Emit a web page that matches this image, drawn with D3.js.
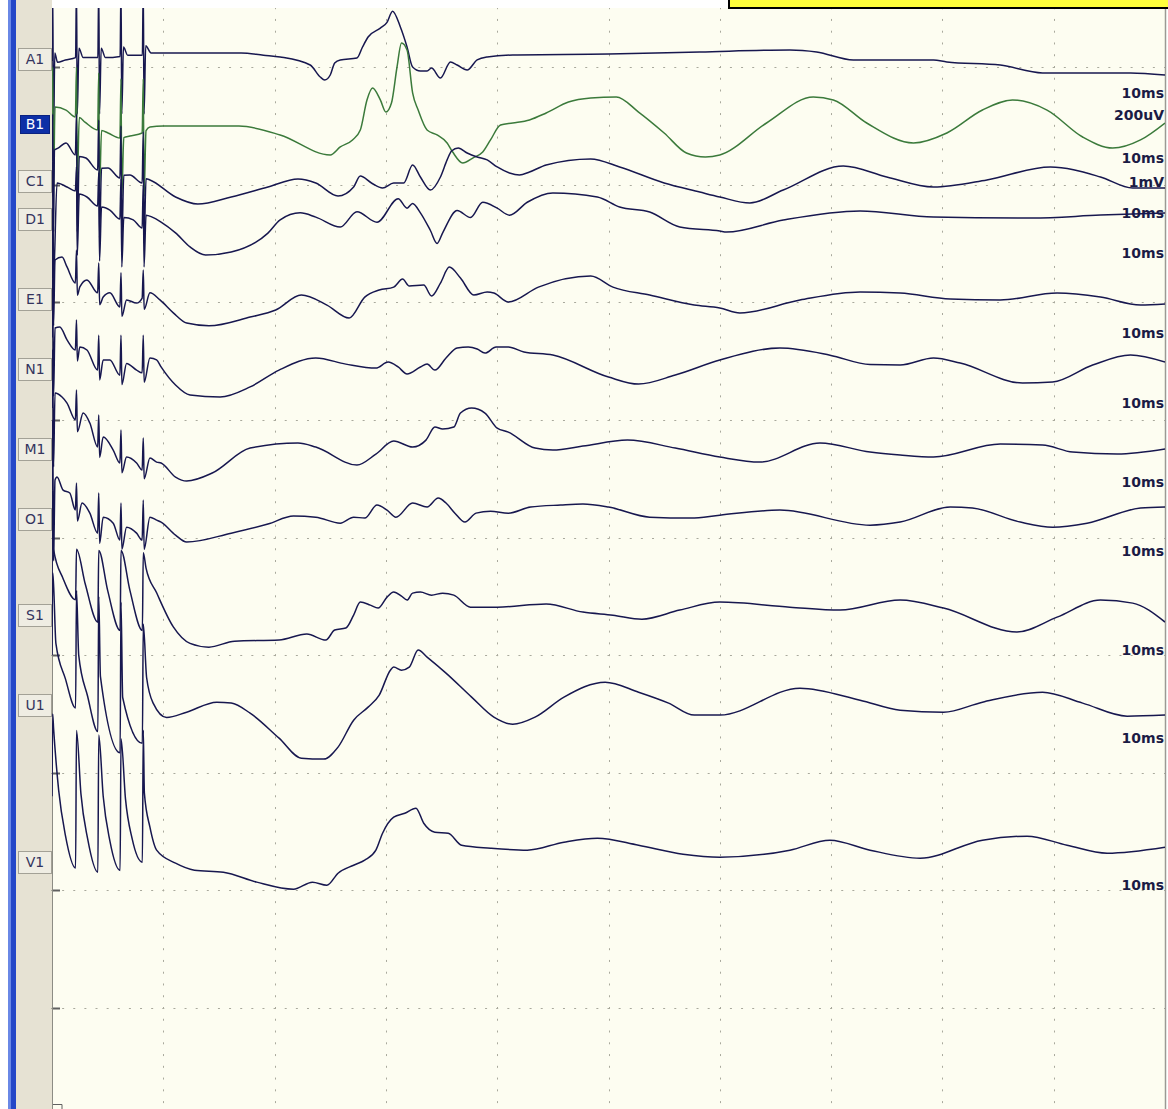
<!DOCTYPE html>
<html>
<head>
<meta charset="utf-8">
<script src="https://cdn.jsdelivr.net/npm/d3@7"></script>
<style>
  html, body { margin: 0; padding: 0; background: #ffffff; }
  svg { display: block; }
</style>
</head>
<body>
<svg id="screen" width="1168" height="1109"></svg>
<script>
// ---- recorded channels (time in ms, level in tenths of a screen division) ----
const channelNames = ["A1", "B1", "C1", "D1", "E1", "N1", "M1", "O1", "S1", "U1", "V1"];
const selectedChannel = "B1";

const traceA1 = [[0,-0.5],[0.06,-7],[0.14,6],[0.25,-1.2],[0.5,-0.4],[1.2,-0.6],[2.12,-0.8],[2.2,-7],[2.27,4],[2.42,-1.6],[2.8,-0.8],[4.12,-0.8],[4.2,-7],[4.27,4],[4.42,-1.6],[4.8,-0.8],[6.12,-0.9],[6.2,-7],[6.27,4],[6.42,-1.7],[6.8,-1.0],[8.12,-1.0],[8.2,-7],[8.27,4],[8.42,-1.8],[8.9,-1.2],[12,-1.2],[17,-1.2],[19,-1.0],[20.5,-0.85],[23.2,-0.17],[24.1,0.85],[24.5,1.1],[25.0,0.68],[25.4,-0.34],[25.9,-0.6],[27.4,-0.77],[27.9,-1.7],[28.4,-2.55],[29.5,-3.3],[30.1,-3.8],[30.6,-4.75],[31.3,-3.4],[31.9,-1.7],[32.4,0],[33.1,0.34],[33.7,0.34],[34.1,0.09],[34.9,0.94],[35.8,-0.43],[36.4,-0.17],[37.3,0.26],[38.2,-0.6],[39.1,-0.85],[41.4,-1.02],[50,-1.1],[58.2,-1.28],[66.3,-1.45],[68.7,-1.28],[72.0,-0.6],[79.2,-0.6],[80.4,-0.43],[85.2,-0.17],[89,0.5],[96.9,0.5],[100,0.68]];

const traceB1 = [[0,6],[0.06,0],[0.14,10],[0.27,3.4],[1.26,3.66],[2.1,4.25],[2.2,0],[2.27,10],[2.45,4.3],[2.96,4.68],[4.1,5.36],[4.2,0.5],[4.27,10.5],[4.45,5.4],[5.03,5.61],[6.1,6.04],[6.2,1],[6.27,11],[6.45,6.0],[7.0,5.87],[8.1,5.61],[8.2,1],[8.27,11],[8.45,5.4],[8.8,5.1],[10,5.02],[16.8,5.02],[20.5,5.78],[25.0,7.48],[25.9,6.8],[27.0,6.2],[27.7,5.36],[28.3,2.8],[28.8,1.79],[29.5,2.8],[30.0,3.83],[30.5,3.06],[31.0,0],[31.4,-2.04],[31.9,-1.45],[32.4,2.2],[32.9,3.66],[33.7,5.36],[34.6,5.78],[35.5,6.46],[36.0,7.23],[36.9,8.16],[37.8,7.74],[38.7,7.23],[39.4,6.2],[40.3,4.93],[41.4,4.76],[42.9,4.5],[44.4,3.91],[46.4,2.98],[48.4,2.64],[50.7,2.55],[52.7,3.83],[55.0,5.61],[57.0,7.31],[58.7,7.65],[60,7.48],[64.2,4.76],[68.4,2.55],[70.2,2.8],[73.2,4.76],[77.4,6.46],[80.4,5.61],[83.6,3.66],[86.3,2.8],[89.4,3.66],[92.6,5.95],[95.3,6.89],[97.8,6.2],[100,4.76]];

const traceC1 = [[0,8],[0.06,4],[0.14,14],[0.22,7.06],[0.54,6.9],[1.26,6.46],[2.1,7.48],[2.2,4],[2.27,14],[2.45,7.6],[3.05,7.74],[4.1,8.76],[4.2,4.5],[4.27,14.5],[4.45,8.6],[5.03,8.59],[6.1,9.44],[6.2,5],[6.27,15],[6.45,9.2],[7.0,9.18],[8.1,9.86],[8.2,5.5],[8.27,15],[8.45,9.5],[8.8,9.6],[11.1,11.05],[13.1,11.65],[16.1,11.05],[19.4,10.2],[22.1,9.52],[23.7,9.86],[25.7,10.97],[27.1,10.2],[27.7,9.27],[28.7,9.86],[29.7,10.29],[30.7,9.86],[31.6,9.86],[32.4,8.33],[33.1,9.35],[34.0,10.46],[34.9,9.35],[35.5,7.9],[35.9,7.14],[36.5,6.89],[37.3,7.31],[38.2,7.65],[39.1,7.9],[40.0,8.5],[41.1,9.01],[42.0,9.18],[42.9,8.93],[44.4,8.33],[48.4,7.82],[51.0,8.5],[55.0,9.86],[58.2,10.63],[60,11.05],[62.7,11.56],[65.7,10.46],[71.1,8.42],[75.0,9.35],[79.2,10.2],[84.0,9.6],[89.7,8.5],[94.2,9.35],[97.1,10.29],[100,10.29]];

const traceD1 = [[0,11],[0.06,8],[0.14,18],[0.45,9.86],[1.35,10.2],[2.1,10.54],[2.2,8.5],[2.27,16],[2.45,10.8],[3.14,11.05],[4.1,11.82],[4.2,9],[4.27,16.5],[4.45,11.9],[5.2,12.16],[6.1,12.93],[6.2,9.5],[6.27,17],[6.45,12.8],[7.3,13.0],[8.1,13.69],[8.2,10],[8.27,17],[8.45,12.6],[9.0,12.76],[9.8,13.18],[11.1,14.1],[12.4,15.3],[13.8,15.99],[16.1,15.73],[19.4,14.12],[20.5,13.0],[22.3,12.4],[23.7,12.76],[25.9,13.6],[27.4,12.3],[29.2,13.2],[31.1,11.2],[31.9,12.0],[32.4,11.6],[33.1,12.4],[34.0,13.9],[34.6,15.0],[35.1,14.1],[36.4,12.2],[37.6,12.8],[38.7,11.5],[40.0,12.0],[41.1,12.6],[42.7,11.5],[45.0,10.71],[49.0,11.05],[51.0,11.9],[53.7,12.33],[56.4,13.6],[60,13.95],[60.6,14.03],[65.7,13.01],[72.6,12.24],[79.2,12.76],[88.1,12.84],[94.2,12.59],[100,12.41]];

const traceE1 = [[0,18],[0.06,12],[0.14,22],[0.27,16.41],[0.9,16.16],[1.35,17.0],[2.1,18.37],[2.2,15.56],[2.28,19.4],[2.5,18.7],[3.14,18.1],[4.1,19.2],[4.2,16.67],[4.28,20.2],[4.6,19.56],[5.2,19.2],[6.1,20.4],[6.2,17.5],[6.28,21.2],[6.7,19.8],[7.6,20.07],[8.1,19.64],[8.2,17.26],[8.28,20.6],[8.8,19.2],[9.7,19.8],[10.9,20.9],[12.1,21.77],[14.1,22.0],[17.8,21.26],[20.1,20.66],[22.4,19.39],[24.7,20.24],[26.7,21.34],[28.1,19.56],[29.4,18.96],[30.7,18.71],[31.5,18.03],[32.1,18.62],[33.4,18.54],[34.1,19.47],[34.9,18.37],[35.7,17.01],[36.7,17.94],[37.9,19.39],[39.1,19.13],[39.7,19.22],[41.0,19.98],[43.7,18.71],[48.4,17.77],[50.4,18.71],[53.7,19.39],[57.7,20.24],[60,20.49],[61.8,20.92],[67.2,19.81],[72.6,19.13],[76.2,19.22],[80.7,19.73],[85.2,19.81],[90.3,19.22],[94.2,19.56],[97.8,20.24],[100,20.15]];

const traceN1 = [[0,23],[0.06,18],[0.14,28],[0.27,22.19],[0.7,22.1],[1.35,23.2],[2.1,24.06],[2.2,21.5],[2.28,25],[2.5,23.8],[3.14,24.06],[4.1,25.77],[4.2,22.8],[4.28,26.6],[4.6,24.9],[5.2,24.9],[6.1,26.2],[6.2,22.8],[6.28,27],[6.7,25.2],[7.6,25.77],[8.1,26.0],[8.2,22.8],[8.28,26.8],[8.8,24.74],[9.4,24.9],[9.8,25.5],[11.1,27.04],[12.4,27.89],[15.1,28.06],[17.8,27.2],[20.4,25.77],[23.7,24.74],[26.4,25.26],[29.1,25.6],[30.2,25.09],[31.1,25.5],[31.9,26.1],[33.1,25.5],[33.7,25.26],[34.4,25.77],[35.4,24.74],[36.4,23.89],[37.4,23.81],[38.2,23.98],[38.9,24.32],[39.9,23.81],[41.0,23.81],[42.4,24.23],[45.0,24.49],[50.0,26.36],[52.7,26.96],[56.0,26.19],[60,24.91],[65.4,23.9],[69.9,24.5],[73.5,25.3],[76.2,25.34],[79.2,24.74],[81.6,25.17],[87.2,26.87],[89.9,26.79],[93.5,25.34],[96.9,24.49],[100,25.09]];

const traceM1 = [[0,29],[0.06,24],[0.14,34],[0.27,27.72],[0.9,28.06],[1.35,28.57],[2.1,30.0],[2.2,27.47],[2.28,31],[2.8,29.42],[3.4,30.27],[4.1,32.31],[4.2,29.59],[4.28,33.2],[4.6,31.46],[5.5,32.57],[6.1,33.67],[6.2,30.87],[6.28,34.5],[6.7,33.16],[7.6,33.67],[8.1,34.27],[8.2,31.55],[8.28,35],[8.8,33.25],[9.4,33.59],[9.8,33.67],[11.1,34.86],[12.1,35.2],[14.4,34.52],[17.8,32.4],[22.1,31.97],[23.7,32.31],[27.4,33.84],[29.1,32.91],[30.7,31.8],[32.4,32.31],[33.6,31.72],[34.4,30.61],[35.1,30.78],[36.1,30.61],[36.7,29.42],[37.7,29.0],[38.9,29.42],[40.0,30.7],[41.0,31.04],[43.4,32.4],[45.0,32.57],[47.7,32.23],[51.7,31.72],[56.0,32.4],[60,33.16],[63.6,33.59],[69.0,31.97],[73.5,32.74],[76.2,32.99],[79.2,33.16],[85.2,32.06],[89.0,32.14],[91.7,32.74],[95.7,32.91],[100,32.48]];

const traceO1 = [[0,36],[0.06,30],[0.14,42],[0.27,35.12],[0.45,34.86],[1.0,35.97],[1.6,36.22],[2.1,37.67],[2.2,35.37],[2.28,38.6],[2.7,37.07],[3.4,37.93],[4.1,39.63],[4.2,36.22],[4.28,40.5],[4.6,38.27],[5.5,38.78],[6.1,40.22],[6.2,37.07],[6.28,41],[6.7,39.12],[7.6,39.63],[8.1,40.22],[8.2,36.82],[8.28,41],[8.8,38.27],[9.4,38.52],[9.8,38.69],[11.1,39.8],[12.1,40.39],[16.1,39.63],[19.4,38.86],[21.7,38.18],[23.7,38.27],[25.9,38.78],[27.1,38.27],[28.1,38.35],[29.2,37.24],[30.1,37.67],[30.9,38.27],[32.4,37.07],[33.7,37.41],[34.7,36.65],[35.4,37.07],[36.2,37.93],[37.1,38.69],[38.1,37.93],[39.4,37.76],[41.0,37.93],[43.0,37.41],[45.7,37.24],[47.7,37.16],[50.0,37.41],[53.7,38.27],[57.4,38.35],[60,38.1],[65.4,37.67],[73.5,38.95],[76.2,38.69],[80.7,37.41],[82.7,37.5],[87.0,38.69],[89.9,39.12],[93.0,38.78],[97.8,37.5],[100,37.41]];

const traceS1 = [[0,44],[0.06,36],[0.14,41],[1.0,43.5],[2.12,45.3],[2.2,41],[3.0,44],[4.12,47.2],[4.2,41.1],[5.0,44.5],[6.12,47.9],[6.2,41.1],[7.0,44.5],[8.12,47.9],[8.2,41.3],[8.45,42.6],[9.4,44.7],[10.9,47.6],[12.4,49.0],[14.1,49.32],[16.4,48.81],[20.4,48.72],[22.9,48.21],[24.6,48.72],[25.4,47.87],[26.4,47.7],[27.1,46.6],[27.7,45.49],[28.6,45.75],[29.3,46.0],[30.1,45.07],[30.7,44.64],[31.4,44.98],[31.9,45.32],[32.4,44.73],[33.1,44.64],[34.1,44.9],[35.1,44.73],[36.1,44.9],[37.6,45.92],[40.0,45.92],[44.4,45.66],[47.7,46.34],[50.4,46.6],[53.0,46.94],[56.4,46.17],[60,45.49],[66.3,45.92],[70.8,46.17],[76.2,45.32],[80.1,46.0],[86.7,48.04],[90.3,46.77],[94.2,45.32],[97.1,45.58],[100,47.19]];

const traceU1 = [[0,50],[0.06,43],[0.14,44],[0.35,49],[1.2,52],[2.12,54.5],[2.2,44.5],[2.4,50],[3.2,53.5],[4.12,56.5],[4.2,45],[4.35,51.8],[6.12,58.3],[6.2,45.5],[6.35,53.6],[8.12,57.5],[8.2,47.36],[8.5,51.9],[9.1,54.1],[10.3,55.3],[12.1,54.85],[14.8,54.0],[16.1,54.08],[17.8,54.93],[20.4,57.06],[22.4,58.76],[24.4,58.84],[25.7,57.82],[27.1,55.53],[28.4,54.42],[29.4,53.4],[30.4,51.28],[30.7,51.02],[31.4,51.28],[32.1,51.02],[32.9,49.57],[33.7,50.17],[35.4,51.53],[37.7,53.57],[39.7,55.27],[41.4,55.87],[43.4,55.27],[46.0,53.57],[49.7,52.3],[52.7,53.15],[55.4,54.08],[57.7,55.1],[60,55.1],[67.2,52.81],[72.6,53.83],[76.2,54.68],[80.1,54.85],[83.6,54.0],[89.0,53.15],[92.6,54.08],[96.6,55.19],[100,55.1]];

const traceV1 = [[0,62],[0.06,55],[0.14,56.2],[0.6,61.5],[1.2,65.3],[2.12,68.1],[2.2,56.4],[2.6,61.8],[3.2,65.6],[4.12,68.45],[4.2,56.8],[4.6,62],[5.2,65.8],[6.12,68.3],[6.2,57.1],[6.6,62.2],[7.2,65.6],[8.12,67.6],[8.2,56.38],[8.3,61.73],[8.8,64.63],[9.4,66.58],[11.1,67.69],[12.8,68.28],[15.4,68.45],[18.4,69.3],[21.7,69.9],[23.4,69.3],[24.7,69.56],[25.7,68.54],[27.1,67.86],[28.1,67.43],[29.1,66.58],[29.7,65.14],[30.7,63.78],[31.7,63.44],[32.7,63.01],[33.4,64.29],[34.4,65.05],[35.6,65.14],[36.8,66.16],[39.4,66.41],[42.7,66.58],[46.0,65.9],[49.0,65.56],[52.7,66.16],[56.7,66.92],[60,67.18],[66.3,66.58],[69.9,65.73],[73.5,66.58],[78.0,67.26],[83.6,65.73],[87.6,65.39],[91.2,66.16],[94.8,66.84],[100,66.33]];

const traces = [traceA1, traceB1, traceC1, traceD1, traceE1, traceN1, traceM1, traceO1, traceS1, traceU1, traceV1];

// time base / sensitivity annotations down the right edge
const scaleNoteTexts = ["10ms", "200uV", "10ms", "1mV", "10ms", "10ms", "10ms", "10ms", "10ms", "10ms", "10ms", "10ms", "10ms"];

// time grid (ms) and division grid
const timeTicks = [10, 20, 30, 40, 50, 60, 70, 80, 90];
const divisionTicks = [0, 10, 20, 30, 40, 50, 60, 70, 80];

// ---- layout ----
const W = 1168, H = 1109;
const plotLeft = 52, plotRight = 1165, plotTop = 8, plotBottom = H;
const x = d3.scaleLinear().domain([0, 100]).range([plotLeft, plotRight]);
const y = d3.scaleLinear().domain([0, 80]).range([67, 1008]);

// vertical placement of the channel name tabs and the right-edge notes (screen tenths)
const tabRows = [-0.7, 4.85, 9.7, 12.9, 19.75, 25.7, 32.5, 38.4, 46.55, 54.25, 67.6];
const noteRows = [2.64, 4.51, 8.16, 10.2, 12.84, 16.24, 23.04, 28.99, 35.71, 41.58, 50.0, 57.48, 69.98];

const svg = d3.select("#screen");

// panel chrome
svg.append("rect").attr("x", 0).attr("y", 0).attr("width", W).attr("height", H).attr("fill", "#ffffff");
svg.append("rect").attr("x", 8).attr("y", 0).attr("width", 3).attr("height", H).attr("fill", "#6a88e6");
svg.append("rect").attr("x", 11).attr("y", 0).attr("width", 5).attr("height", H).attr("fill", "#2447c8");
svg.append("rect").attr("x", 16).attr("y", 0).attr("width", plotLeft - 16).attr("height", H).attr("fill", "#e6e2d3");
svg.append("rect").attr("x", plotLeft).attr("y", plotTop).attr("width", plotRight - plotLeft).attr("height", plotBottom - plotTop).attr("fill", "#fdfdf1");

// dotted grid
const grid = svg.append("g").attr("stroke", "#a9a99c").attr("stroke-width", 1);
grid.selectAll("line.v").data(timeTicks).join("line")
  .attr("class", "v")
  .attr("x1", d => Math.round(x(d)) + 0.5).attr("x2", d => Math.round(x(d)) + 0.5)
  .attr("y1", y(-5) - 1).attr("y2", plotBottom)
  .attr("stroke-dasharray", `2 ${(y(1) - y(0)) - 2}`);
grid.selectAll("line.h").data(divisionTicks).join("line")
  .attr("class", "h")
  .attr("y1", d => Math.round(y(d)) + 0.5).attr("y2", d => Math.round(y(d)) + 0.5)
  .attr("x1", plotLeft - 1).attr("x2", plotRight)
  .attr("stroke-dasharray", `2 ${(x(1) - x(0)) - 2}`);

// reference marks on the left border
svg.append("g").selectAll("line").data(divisionTicks).join("line")
  .attr("x1", plotLeft).attr("x2", plotLeft + 8)
  .attr("y1", d => Math.round(y(d)) + 0.5).attr("y2", d => Math.round(y(d)) + 0.5)
  .attr("stroke", "#606060").attr("stroke-width", 2);
svg.append("path")
  .attr("d", `M${plotLeft + 1},${H - 4.5}H${plotLeft + 10}V${H}`)
  .attr("fill", "none").attr("stroke", "#606060").attr("stroke-width", 1);

// plot borders
svg.append("line").attr("x1", plotLeft + 0.5).attr("x2", plotLeft + 0.5).attr("y1", plotTop).attr("y2", H)
  .attr("stroke", "#8c8c84").attr("stroke-width", 1);
svg.append("line").attr("x1", plotRight + 0.5).attr("x2", plotRight + 0.5).attr("y1", plotTop).attr("y2", H)
  .attr("stroke", "#9a9a94").attr("stroke-width", 1.5);

// channel name tabs
const tabs = svg.append("g");
channelNames.forEach((name, i) => {
  const cy = y(tabRows[i]);
  const sel = name === selectedChannel;
  tabs.append("rect")
    .attr("x", sel ? 20.5 : 18.5).attr("y", Math.round(cy - (sel ? 9 : 11)) + 0.5)
    .attr("width", sel ? 29 : 33).attr("height", sel ? 18 : 22)
    .attr("fill", sel ? "#0d2fa6" : "#efede3")
    .attr("stroke", sel ? "#0a2280" : "#a3a196");
  tabs.append("text")
    .attr("x", 35).attr("y", cy + 5)
    .attr("text-anchor", "middle")
    .attr("font-family", "DejaVu Sans, Verdana, sans-serif")
    .attr("font-size", 14)
    .attr("fill", sel ? "#ffffff" : "#34345e")
    .text(name);
});

// right-edge notes
svg.append("g").selectAll("text").data(scaleNoteTexts).join("text")
  .attr("x", plotRight - 1)
  .attr("y", (d, i) => y(noteRows[i]))
  .attr("text-anchor", "end")
  .attr("font-family", "DejaVu Sans, Verdana, sans-serif")
  .attr("font-weight", "bold")
  .attr("font-size", 14)
  .attr("fill", "#1b1b45")
  .text(d => d);

// traces
svg.append("defs").append("clipPath").attr("id", "plotClip")
  .append("rect").attr("x", plotLeft).attr("y", plotTop).attr("width", plotRight - plotLeft).attr("height", plotBottom - plotTop);

const line = d3.line().x(d => x(d[0])).y(d => y(d[1])).curve(d3.curveMonotoneX);
svg.append("g").attr("clip-path", "url(#plotClip)")
  .selectAll("path").data(traces).join("path")
  .attr("d", line)
  .attr("fill", "none")
  .attr("stroke", (d, i) => channelNames[i] === selectedChannel ? "#3b7a3b" : "#17174f")
  .attr("stroke-width", 1.5)
  .attr("stroke-linejoin", "round");

// status strip along the top
svg.append("rect").attr("x", plotLeft).attr("y", 0).attr("width", 728 - plotLeft).attr("height", plotTop).attr("fill", "#ffffff");
svg.append("rect").attr("x", 728).attr("y", 0).attr("width", W - 728).attr("height", 8).attr("fill", "#ffff3c");
svg.append("path").attr("d", "M729,0V8H1168").attr("fill", "none").attr("stroke", "#000000").attr("stroke-width", 2);
</script>
</body>
</html>
